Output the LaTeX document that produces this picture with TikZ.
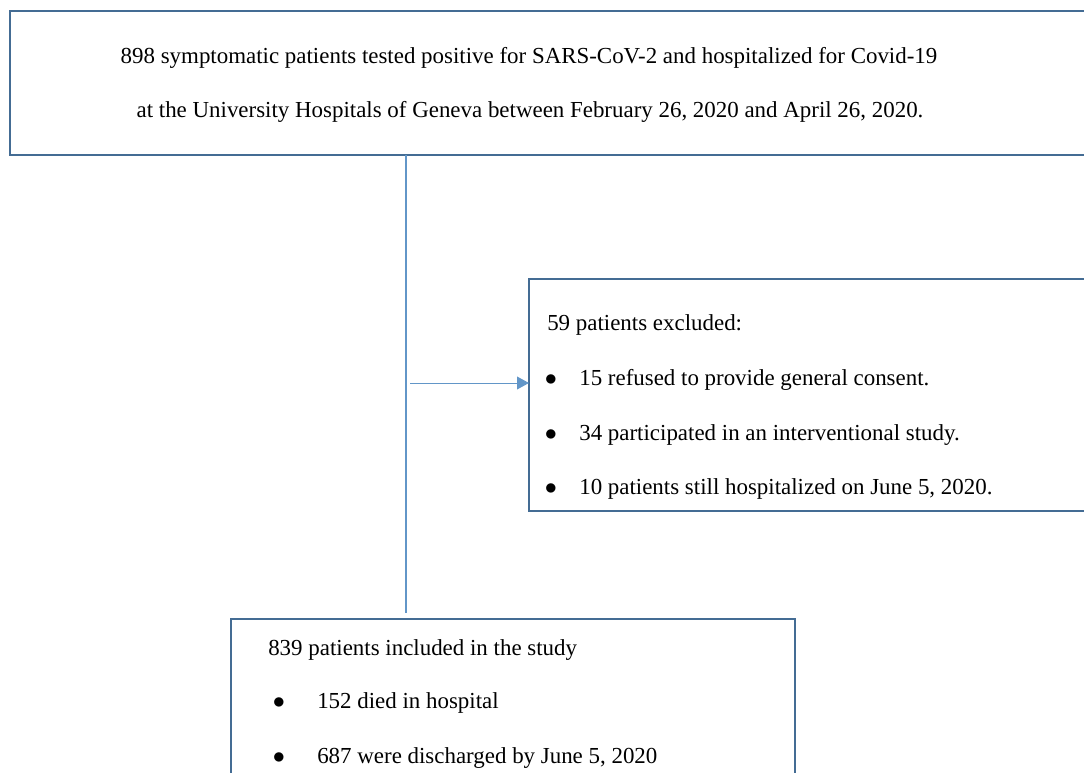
\documentclass[tikz,border=0pt]{standalone}
\usepackage{fontspec}
\setmainfont{Liberation Serif}
\usetikzlibrary{calc,arrows.meta}
\definecolor{boxline}{RGB}{68,108,148}
\definecolor{flowline}{RGB}{98,150,200}
\begin{document}
\begin{tikzpicture}[x=0.025cm,y=-0.025cm,
                    box/.style={draw=boxline,line width=1.9pt,fill=white,anchor=north west,inner sep=0pt,outer sep=0pt},
                    entry/.style={anchor=base west,inner sep=0pt,font=\fontsize{16.3}{19.6}\selectfont},
                    dot/.style={anchor=base,inner sep=0pt,font=\fontsize{16.3}{19.6}\selectfont},
                    flow/.style={draw=flowline,line width=1.6pt},
                    arrow/.style={draw=flowline,line width=0.7pt,-{Triangle[length=0.3cm,width=0.32cm]}}]
            \useasboundingbox (0,0) rectangle (1084,773);
            \clip (0,0) rectangle (1084,773);
            \node[box,minimum width=27.5cm,minimum height=3.6cm] (cohort) at (10,11) {};
            \node[entry,anchor=base] (cohort a) at (529,64) {898 symptomatic patients tested positive for SARS-CoV-2 and hospitalized for Covid-19};
            \node[entry,anchor=base] (cohort b) at (530,118) {at the University Hospitals of Geneva between February 26, 2020 and April 26, 2020.};
            \node[box,minimum width=14.5cm,minimum height=5.8cm] (excluded) at (529,279) {};
            \node[entry] (excluded head) at (547,331) {59 patients excluded:};
            \node[dot] (excluded dot a) at (551,385) {$\bullet$};
            \node[dot] (excluded dot b) at (551,440) {$\bullet$};
            \node[dot] (excluded dot c) at (551,494) {$\bullet$};
            \node[entry] (excluded a) at (579,385) {15 refused to provide general consent.};
            \node[entry] (excluded b) at (579,440) {34 participated in an interventional study.};
            \node[entry] (excluded c) at (579,494) {10 patients still hospitalized on June 5, 2020.};
            \node[box,minimum width=14.1cm,minimum height=5cm] (included) at (231,619) {};
            \node[entry] (included head) at (268,655) {839 patients included in the study};
            \node[dot] (included dot a) at (279,708) {$\bullet$};
            \node[dot] (included dot b) at (279,763) {$\bullet$};
            \node[entry] (included a) at (317,708) {152 died in hospital};
            \node[entry] (included b) at (317,763) {687 were discharged by June 5, 2020};
            \coordinate (stem) at (406,383);
            \draw[flow] (stem |- cohort.south) -- ($(stem |- included.north)+(0,-6)$);
            \draw[arrow] ($(stem)+(4,0)$) -- (stem -| excluded.west);

        \end{tikzpicture}
\end{document}
